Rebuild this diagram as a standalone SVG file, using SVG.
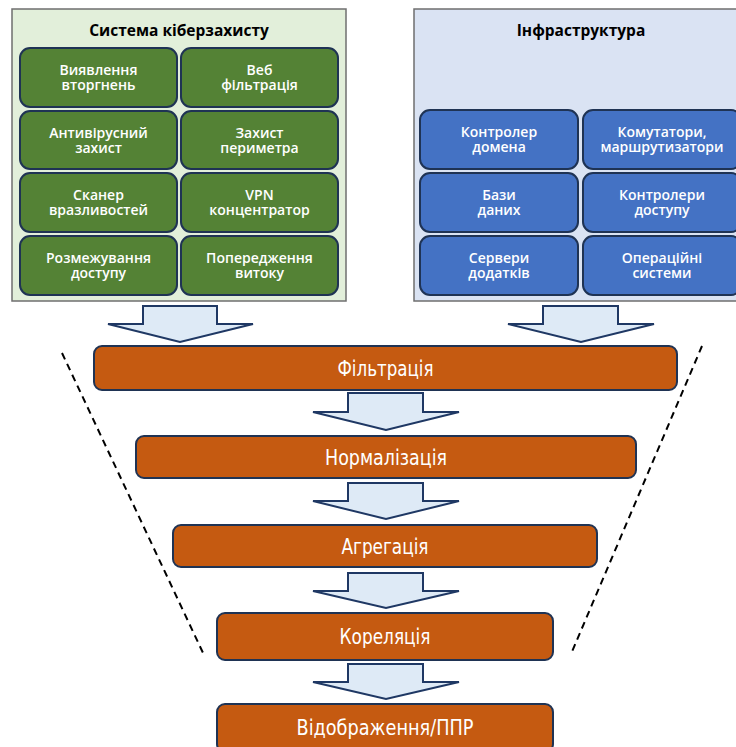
<svg xmlns="http://www.w3.org/2000/svg" width="736" height="747" viewBox="0 0 736 747">
<defs>
<style>
.panel{stroke:#6f6f6f;stroke-width:1.5}
.g{fill:#548235;stroke:#1f3354;stroke-width:2}
.b{fill:#4472c4;stroke:#1f3354;stroke-width:2}
.o{fill:#c55a11;stroke:#1f3354;stroke-width:2}
.arr{fill:#deeaf6;stroke:#1f3864;stroke-width:2;stroke-linejoin:miter}
.t{font-family:"Open Sans","Liberation Sans",sans-serif;font-size:14px;font-weight:600;fill:#ffffff;text-anchor:middle}
.h{font-family:"Open Sans","Liberation Sans",sans-serif;font-size:15.5px;font-weight:700;fill:#000000;text-anchor:middle}
.s{font-family:"Liberation Sans Narrow","DejaVu Sans Condensed","Liberation Sans",sans-serif;font-size:22px;fill:#ffffff;text-anchor:middle}
.dash{stroke:#000;stroke-width:2;stroke-dasharray:7 5;fill:none}
</style>
</defs>
<rect width="736" height="747" fill="#ffffff"/>

<g id="cyber-system">
<rect class="panel" x="12" y="9" width="334" height="292" fill="#e2efda"/>
<text class="h" x="179" y="36">Система кіберзахисту</text>
</g>
<g id="ids"><rect class="g" x="20" y="48" width="157" height="59" rx="10"/><text class="t" x="98.5" y="75">Виявлення</text><text class="t" x="98.5" y="90">вторгнень</text></g>
<g id="webfilter"><rect class="g" x="181" y="48" width="157" height="59" rx="10"/><text class="t" x="259.5" y="75">Веб</text><text class="t" x="259.5" y="90">фільтрація</text></g>
<g id="antivirus"><rect class="g" x="20" y="111" width="157" height="58" rx="10"/><text class="t" x="98.5" y="137.5">Антивірусний</text><text class="t" x="98.5" y="152.5">захист</text></g>
<g id="perimeter"><rect class="g" x="181" y="111" width="157" height="58" rx="10"/><text class="t" x="259.5" y="137.5">Захист</text><text class="t" x="259.5" y="152.5">периметра</text></g>
<g id="scanner"><rect class="g" x="20" y="173" width="157" height="59" rx="10"/><text class="t" x="98.5" y="200">Сканер</text><text class="t" x="98.5" y="215">вразливостей</text></g>
<g id="vpn"><rect class="g" x="181" y="173" width="157" height="59" rx="10"/><text class="t" x="259.5" y="200">VPN</text><text class="t" x="259.5" y="215">концентратор</text></g>
<g id="access-sep"><rect class="g" x="20" y="236" width="157" height="59" rx="10"/><text class="t" x="98.5" y="263">Розмежування</text><text class="t" x="98.5" y="278">доступу</text></g>
<g id="dlp"><rect class="g" x="181" y="236" width="157" height="59" rx="10"/><text class="t" x="259.5" y="263">Попередження</text><text class="t" x="259.5" y="278">витоку</text></g>

<g id="infrastructure">
<rect class="panel" x="414" y="9" width="340" height="292" fill="#dae3f3"/>
<text class="h" x="581" y="36">Інфраструктура</text>
</g>
<g id="dc"><rect class="b" x="420" y="110" width="158" height="59" rx="10"/><text class="t" x="499" y="137">Контролер</text><text class="t" x="499" y="152">домена</text></g>
<g id="switches"><rect class="b" x="583" y="110" width="158" height="59" rx="10"/><text class="t" x="662" y="137">Комутатори,</text><text class="t" x="662" y="152">маршрутизатори</text></g>
<g id="db"><rect class="b" x="420" y="173" width="158" height="59" rx="10"/><text class="t" x="499" y="200">Бази</text><text class="t" x="499" y="215">даних</text></g>
<g id="acl"><rect class="b" x="583" y="173" width="158" height="59" rx="10"/><text class="t" x="662" y="200">Контролери</text><text class="t" x="662" y="215">доступу</text></g>
<g id="appservers"><rect class="b" x="420" y="236" width="158" height="59" rx="10"/><text class="t" x="499" y="263">Сервери</text><text class="t" x="499" y="278">додатків</text></g>
<g id="os"><rect class="b" x="583" y="236" width="158" height="59" rx="10"/><text class="t" x="662" y="263">Операційні</text><text class="t" x="662" y="278">системи</text></g>

<g id="funnel">
<line class="dash" x1="62" y1="353" x2="204" y2="655"/>
<line class="dash" x1="702" y1="346" x2="571" y2="654"/>
</g>

<g id="filtering"><rect class="o" x="94" y="346" width="583" height="44" rx="8"/><text class="s" x="385.5" y="376" textLength="96" lengthAdjust="spacingAndGlyphs">Фільтрація</text></g>
<g id="normalization"><rect class="o" x="136" y="436" width="500" height="42" rx="8"/><text class="s" x="386" y="465" textLength="122" lengthAdjust="spacingAndGlyphs">Нормалізація</text></g>
<g id="aggregation"><rect class="o" x="173" y="525" width="424" height="42" rx="8"/><text class="s" x="385" y="554" textLength="87" lengthAdjust="spacingAndGlyphs">Агрегація</text></g>
<g id="correlation"><rect class="o" x="217" y="613" width="336" height="47" rx="8"/><text class="s" x="385" y="644" textLength="91" lengthAdjust="spacingAndGlyphs">Кореляція</text></g>
<g id="display"><rect class="o" x="217" y="704" width="336" height="48" rx="8"/><text class="s" x="385" y="735" textLength="177" lengthAdjust="spacingAndGlyphs">Відображення/ППР</text></g>

<g id="connectors">
<path class="arr" d="M143,306 H217 V324 H253 L180,342 L108,324 H143 Z"/>
<path class="arr" d="M543,306 H618 V324 H654 L581,342 L508,324 H543 Z"/>
<path class="arr" d="M348,393 H423 V412 H459 L386,430 L313,412 H348 Z"/>
<path class="arr" d="M348,483 H423 V501 H459 L386,519 L313,501 H348 Z"/>
<path class="arr" d="M348,573 H423 V591 H459 L386,608 L313,591 H348 Z"/>
<path class="arr" d="M348,664 H423 V682 H459 L386,699 L313,682 H348 Z"/>
</g>
</svg>
